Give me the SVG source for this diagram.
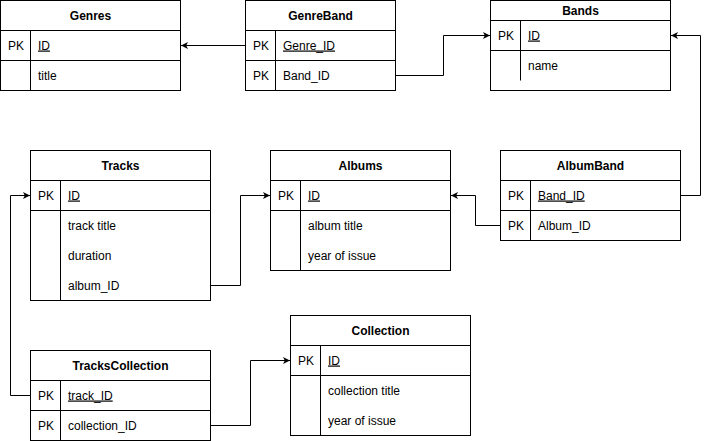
<svg xmlns="http://www.w3.org/2000/svg" width="709" height="441" viewBox="0 0 709 441">
<style>
  .box { fill: #ffffff; stroke: #000000; stroke-width: 1; }
  .ln { stroke: #000000; stroke-width: 1; fill: none; }
  .hd { font-family: "Liberation Sans", Arial, sans-serif; font-size: 12px; font-weight: bold; fill: #000000; text-anchor: middle; }
  .tx { font-family: "Liberation Sans", Arial, sans-serif; font-size: 12px; fill: #000000; }
  .u { text-decoration: underline; }
  .cn { stroke: #000000; stroke-width: 1; fill: none; marker-end: url(#arr); }
</style>
<defs>
  <marker id="arr" markerWidth="8" markerHeight="8" refX="7" refY="4" orient="auto" markerUnits="userSpaceOnUse">
    <path d="M0,0.5 L7,4 L0,7.5 L1.8,4 Z" fill="#000000"/>
  </marker>
</defs>
<rect width="709" height="441" fill="#ffffff"/>

<g id="connectors">
  <path class="cn" d="M245.5,45.5 L181,45.5"/>
  <path class="cn" d="M395.5,75.5 L443.5,75.5 L443.5,35.5 L490,35.5"/>
  <path class="cn" d="M680.5,195.5 L700.5,195.5 L700.5,35.5 L671,35.5"/>
  <path class="cn" d="M500.5,225.5 L475.5,225.5 L475.5,195.5 L451,195.5"/>
  <path class="cn" d="M210.5,285.5 L240.5,285.5 L240.5,195.5 L270,195.5"/>
  <path class="cn" d="M30.5,395.5 L10.5,395.5 L10.5,195.5 L30,195.5"/>
  <path class="cn" d="M210.5,425.5 L250.5,425.5 L250.5,360.5 L290,360.5"/>
</g>

<g id="genres">
  <rect class="box" x="0.5" y="0.5" width="180" height="90"/>
  <line class="ln" x1="0.5" y1="30.5" x2="180.5" y2="30.5"/>
  <line class="ln" x1="0.5" y1="60.5" x2="180.5" y2="60.5"/>
  <line class="ln" x1="30.5" y1="30.5" x2="30.5" y2="90.5"/>
  <text class="hd" x="90.5" y="19.5">Genres</text>
  <text class="tx" x="8" y="49.5">PK</text>
  <text class="tx u" x="38" y="49.5">ID</text>
  <text class="tx" x="38" y="79.5">title</text>
</g>

<g id="genreband">
  <rect class="box" x="245.5" y="0.5" width="150" height="90"/>
  <line class="ln" x1="245.5" y1="30.5" x2="395.5" y2="30.5"/>
  <line class="ln" x1="245.5" y1="60.5" x2="395.5" y2="60.5"/>
  <line class="ln" x1="275.5" y1="30.5" x2="275.5" y2="90.5"/>
  <text class="hd" x="320.5" y="19.5">GenreBand</text>
  <text class="tx" x="253" y="49.5">PK</text>
  <text class="tx u" x="283" y="49.5">Genre_ID</text>
  <text class="tx" x="253" y="79.5">PK</text>
  <text class="tx" x="283" y="79.5">Band_ID</text>
</g>

<g id="bands">
  <rect class="box" x="490.5" y="0.5" width="180" height="90"/>
  <line class="ln" x1="490.5" y1="20.5" x2="670.5" y2="20.5"/>
  <line class="ln" x1="490.5" y1="50.5" x2="670.5" y2="50.5"/>
  <line class="ln" x1="520.5" y1="20.5" x2="520.5" y2="80.5"/>
  <text class="hd" x="580.5" y="14.5">Bands</text>
  <text class="tx" x="498" y="39.5">PK</text>
  <text class="tx u" x="528" y="39.5">ID</text>
  <text class="tx" x="528" y="69.5">name</text>
</g>

<g id="tracks">
  <rect class="box" x="30.5" y="150.5" width="180" height="150"/>
  <line class="ln" x1="30.5" y1="180.5" x2="210.5" y2="180.5"/>
  <line class="ln" x1="30.5" y1="210.5" x2="210.5" y2="210.5"/>
  <line class="ln" x1="60.5" y1="180.5" x2="60.5" y2="300.5"/>
  <text class="hd" x="120.5" y="169.5">Tracks</text>
  <text class="tx" x="38" y="199.5">PK</text>
  <text class="tx u" x="68" y="199.5">ID</text>
  <text class="tx" x="68" y="229.5">track title</text>
  <text class="tx" x="68" y="259.5">duration</text>
  <text class="tx" x="68" y="289.5">album_ID</text>
</g>

<g id="albums">
  <rect class="box" x="270.5" y="150.5" width="180" height="120"/>
  <line class="ln" x1="270.5" y1="180.5" x2="450.5" y2="180.5"/>
  <line class="ln" x1="270.5" y1="210.5" x2="450.5" y2="210.5"/>
  <line class="ln" x1="300.5" y1="180.5" x2="300.5" y2="270.5"/>
  <text class="hd" x="360.5" y="169.5">Albums</text>
  <text class="tx" x="278" y="199.5">PK</text>
  <text class="tx u" x="308" y="199.5">ID</text>
  <text class="tx" x="308" y="229.5">album title</text>
  <text class="tx" x="308" y="259.5">year of issue</text>
</g>

<g id="albumband">
  <rect class="box" x="500.5" y="150.5" width="180" height="90"/>
  <line class="ln" x1="500.5" y1="180.5" x2="680.5" y2="180.5"/>
  <line class="ln" x1="500.5" y1="210.5" x2="680.5" y2="210.5"/>
  <line class="ln" x1="530.5" y1="180.5" x2="530.5" y2="240.5"/>
  <text class="hd" x="590.5" y="169.5">AlbumBand</text>
  <text class="tx" x="508" y="199.5">PK</text>
  <text class="tx u" x="538" y="199.5">Band_ID</text>
  <text class="tx" x="508" y="229.5">PK</text>
  <text class="tx" x="538" y="229.5">Album_ID</text>
</g>

<g id="trackscollection">
  <rect class="box" x="30.5" y="350.5" width="180" height="90"/>
  <line class="ln" x1="30.5" y1="380.5" x2="210.5" y2="380.5"/>
  <line class="ln" x1="30.5" y1="410.5" x2="210.5" y2="410.5"/>
  <line class="ln" x1="60.5" y1="380.5" x2="60.5" y2="440.5"/>
  <text class="hd" x="120.5" y="369.5">TracksCollection</text>
  <text class="tx" x="38" y="399.5">PK</text>
  <text class="tx u" x="68" y="399.5">track_ID</text>
  <text class="tx" x="38" y="429.5">PK</text>
  <text class="tx" x="68" y="429.5">collection_ID</text>
</g>

<g id="collection">
  <rect class="box" x="290.5" y="315.5" width="180" height="120"/>
  <line class="ln" x1="290.5" y1="345.5" x2="470.5" y2="345.5"/>
  <line class="ln" x1="290.5" y1="375.5" x2="470.5" y2="375.5"/>
  <line class="ln" x1="320.5" y1="345.5" x2="320.5" y2="435.5"/>
  <text class="hd" x="380.5" y="334.5">Collection</text>
  <text class="tx" x="298" y="364.5">PK</text>
  <text class="tx u" x="328" y="364.5">ID</text>
  <text class="tx" x="328" y="394.5">collection title</text>
  <text class="tx" x="328" y="424.5">year of issue</text>
</g>
</svg>
